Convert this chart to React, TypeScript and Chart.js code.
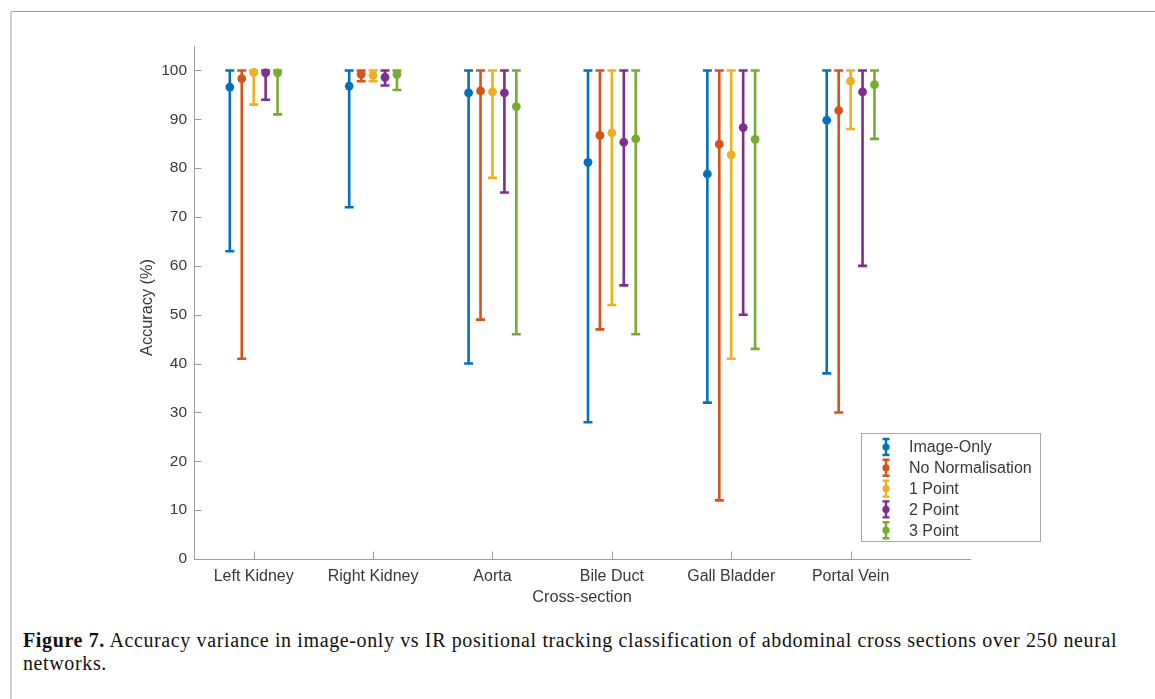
import React, { useEffect, useRef } from "react";
import { Chart, registerables } from "chart.js";

Chart.register(...registerables);

const categories = ["Left Kidney", "Right Kidney", "Aorta", "Bile Duct", "Gall Bladder", "Portal Vein"];
const seriesNames = ["Image-Only", "No Normalisation", "1 Point", "2 Point", "3 Point"];
const seriesColors = ["#0072BD", "#D95319", "#EDB120", "#7E2F8E", "#77AC30"];
const seriesOffsets = [-0.2, -0.1, 0, 0.1, 0.2];

const imageOnlyMean = [96.6, 96.8, 95.4, 81.2, 78.8, 89.8];
const imageOnlyMin = [63, 72, 40, 28, 32, 38];
const imageOnlyMax = [100, 100, 100, 100, 100, 100];

const noNormMean = [98.3, 99.2, 95.8, 86.7, 84.9, 91.8];
const noNormMin = [41, 97.8, 49, 47, 12, 30];
const noNormMax = [100, 100, 100, 100, 100, 100];

const onePointMean = [99.6, 99.0, 95.6, 87.2, 82.7, 97.8];
const onePointMin = [93, 97.8, 78, 52, 41, 88];
const onePointMax = [100, 100, 100, 100, 100, 100];

const twoPointMean = [99.5, 98.6, 95.4, 85.3, 88.3, 95.6];
const twoPointMin = [94, 96.9, 75, 56, 50, 60];
const twoPointMax = [100, 100, 100, 100, 100, 100];

const threePointMean = [99.5, 99.2, 92.6, 86.0, 85.9, 97.1];
const threePointMin = [91, 96, 46, 46, 43, 86];
const threePointMax = [100, 100, 100, 100, 100, 100];

const seriesMeans = [imageOnlyMean, noNormMean, onePointMean, twoPointMean, threePointMean];
const seriesMins = [imageOnlyMin, noNormMin, onePointMin, twoPointMin, threePointMin];
const seriesMaxs = [imageOnlyMax, noNormMax, onePointMax, twoPointMax, threePointMax];

const yTicks = [0, 10, 20, 30, 40, 50, 60, 70, 80, 90, 100];

const yTitle = "Accuracy (%)";
const xTitle = "Cross-section";

const FONT = "'Liberation Sans', Arial, Helvetica, sans-serif";
const TEXT = "#383838";
const AXIS = "#9a9a9a";

const errorBarPlugin = {
  id: "errorBars",
  beforeDatasetsDraw(chart: any) {
    const ctx = chart.ctx;
    const xs = chart.scales.x;
    const ys = chart.scales.y;
    chart.data.datasets.forEach((ds: any) => {
      ctx.save();
      ctx.strokeStyle = ds.borderColor;
      ctx.lineWidth = 2.6;
      ctx.lineCap = "butt";
      ds.data.forEach((pt: any, i: number) => {
        const x = xs.getPixelForValue(pt.x);
        const yl = ys.getPixelForValue(ds.errLow[i]);
        const yh = ys.getPixelForValue(ds.errHigh[i]);
        ctx.beginPath();
        ctx.moveTo(x, yl);
        ctx.lineTo(x, yh);
        ctx.moveTo(x - 4.5, yl);
        ctx.lineTo(x + 4.5, yl);
        ctx.moveTo(x - 4.5, yh);
        ctx.lineTo(x + 4.5, yh);
        ctx.stroke();
      });
      ctx.restore();
    });
  },
  afterDraw(chart: any) {
    const ctx = chart.ctx;
    const xs = chart.scales.x;
    const ys = chart.scales.y;
    const area = chart.chartArea;
    ctx.save();
    // inward tick marks
    ctx.strokeStyle = AXIS;
    ctx.lineWidth = 1;
    ctx.beginPath();
    yTicks.forEach((v) => {
      const y = Math.round(ys.getPixelForValue(v)) + 0.5;
      ctx.moveTo(area.left, y);
      ctx.lineTo(area.left + 7.5, y);
    });
    categories.forEach((_, i) => {
      const x = Math.round(xs.getPixelForValue(i + 1)) + 0.5;
      ctx.moveTo(x, area.bottom);
      ctx.lineTo(x, area.bottom - 7.5);
    });
    ctx.stroke();

    // axis titles
    ctx.fillStyle = TEXT;
    ctx.font = `16.3px ${FONT}`;
    ctx.textAlign = "center";
    ctx.textBaseline = "middle";
    ctx.fillText(xTitle, (area.left + area.right) / 2, 598);
    ctx.save();
    ctx.translate(148, (area.top + area.bottom) / 2 + 5);
    ctx.rotate(-Math.PI / 2);
    ctx.fillText(yTitle, 0, 0);
    ctx.restore();

    // legend
    const lx = 861.5, ly = 433.5, lw = 179, lh = 108;
    ctx.fillStyle = "#ffffff";
    ctx.fillRect(lx, ly, lw, lh);
    ctx.strokeStyle = "#a8a8a8";
    ctx.lineWidth = 1;
    ctx.strokeRect(lx, ly, lw, lh);
    ctx.font = `16px ${FONT}`;
    ctx.textAlign = "left";
    ctx.textBaseline = "middle";
    seriesNames.forEach((name, i) => {
      const cy = 447 + i * 20.8;
      const cx = 886;
      ctx.strokeStyle = seriesColors[i];
      ctx.lineWidth = 2.4;
      ctx.beginPath();
      ctx.moveTo(cx, cy - 8);
      ctx.lineTo(cx, cy + 8);
      ctx.moveTo(cx - 3.5, cy - 8);
      ctx.lineTo(cx + 3.5, cy - 8);
      ctx.moveTo(cx - 3.5, cy + 8);
      ctx.lineTo(cx + 3.5, cy + 8);
      ctx.stroke();
      ctx.fillStyle = seriesColors[i];
      ctx.beginPath();
      ctx.arc(cx, cy, 3.6, 0, Math.PI * 2);
      ctx.fill();
      ctx.fillStyle = TEXT;
      ctx.fillText(name, 909, cy + 1);
    });
    ctx.restore();
  },
};

export default function App() {
  const canvasRef = useRef<HTMLCanvasElement | null>(null);

  useEffect(() => {
    if (!canvasRef.current) return;
    const datasets = seriesNames.map((name, s) => ({
      label: name,
      data: categories.map((_, i) => ({ x: i + 1 + seriesOffsets[s], y: seriesMeans[s][i] })),
      errLow: seriesMins[s],
      errHigh: seriesMaxs[s],
      borderColor: seriesColors[s],
      backgroundColor: seriesColors[s],
      pointBackgroundColor: seriesColors[s],
      pointBorderWidth: 0,
      pointRadius: 4.4,
      pointHoverRadius: 4.4,
      showLine: false,
    }));

    const chart = new Chart(canvasRef.current, {
      type: "scatter",
      data: { datasets } as any,
      options: {
        animation: false,
        responsive: false,
        devicePixelRatio: 1,
        layout: { padding: { left: 0, top: 46, right: 185, bottom: 0 } },
        plugins: { legend: { display: false }, tooltip: { enabled: false } },
        events: [],
        scales: {
          x: {
            type: "linear",
            min: 0.5,
            max: 7,
            afterBuildTicks: (s: any) => {
              s.ticks = categories.map((_, i) => ({ value: i + 1 }));
            },
            afterFit: (s: any) => {
              s.height = 61;
            },
            ticks: {
              autoSkip: false,
              maxRotation: 0,
              padding: 8,
              color: TEXT,
              font: { family: FONT, size: 16 },
              callback: (v: any) => categories[Math.round(Number(v)) - 1] ?? "",
            },
            grid: { display: false, drawTicks: false },
            border: { display: true, color: AXIS, width: 1 },
          },
          y: {
            type: "linear",
            min: 0,
            max: 105,
            afterBuildTicks: (s: any) => {
              s.ticks = yTicks.map((v) => ({ value: v }));
            },
            afterFit: (s: any) => {
              s.width = 194;
            },
            ticks: {
              padding: 7,
              color: TEXT,
              font: { family: FONT, size: 15.5 },
              callback: (v: any) => String(v),
            },
            grid: { display: false, drawTicks: false },
            border: { display: true, color: AXIS, width: 1 },
          },
        },
      } as any,
      plugins: [errorBarPlugin],
    });
    return () => chart.destroy();
  }, []);

  return (
    <div style={{ position: "absolute", left: 0, top: 0, width: 1155, height: 699, background: "#fff", overflow: "hidden" }}>
      <div style={{ position: "absolute", left: 10, top: 11, width: 1145, height: 1, background: "#9a9a9a" }} />
      <div style={{ position: "absolute", left: 10, top: 11, width: 2, height: 688, background: "#d0d0d0" }} />
      <canvas
        ref={canvasRef}
        width={1155}
        height={620}
        style={{ position: "absolute", left: 0, top: 0, width: 1155, height: 620 }}
      />
      <div
        style={{
          position: "absolute",
          left: 23,
          top: 629,
          fontFamily: "'Liberation Serif', 'Times New Roman', serif",
          fontSize: 20,
          lineHeight: "23px",
          letterSpacing: "0.62px",
          color: "#111",
          whiteSpace: "nowrap",
        }}
      >
        <div>
          <b>Figure 7.</b> Accuracy variance in image-only vs IR positional tracking classification of abdominal cross sections over 250 neural
        </div>
        <div>networks.</div>
      </div>
    </div>
  );
}
